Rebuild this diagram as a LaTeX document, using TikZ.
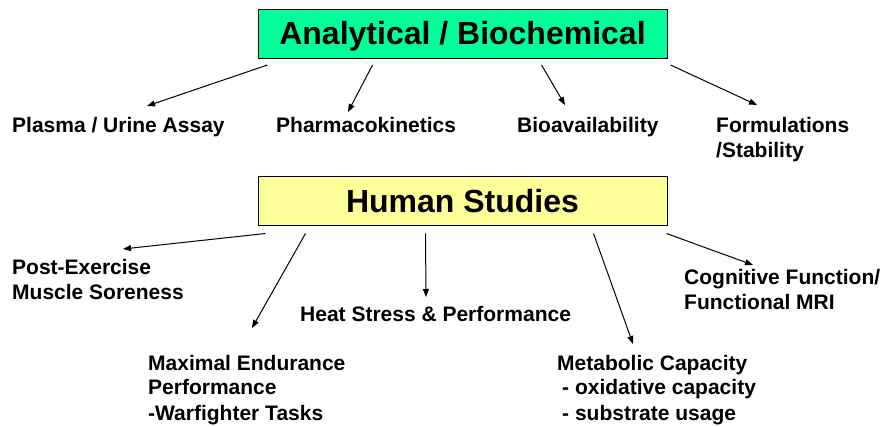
\documentclass[tikz,border=0pt]{standalone}
\usepackage{fontspec}
\setmainfont{Liberation Sans}
\usetikzlibrary{arrows.meta,calc,positioning}
\definecolor{boxgreen}{HTML}{00FF99}
\definecolor{boxyellow}{HTML}{FFFF99}
\tikzset{
    topic/.style={draw=black, line width=1pt, minimum width=409pt, minimum height=49pt, inner sep=0pt,
        text height=23pt, text depth=1pt, font=\fontsize{32}{38}\selectfont\bfseries},
    lbl/.style={font=\fontsize{21}{25}\selectfont\bfseries, align=left, inner sep=0pt, anchor=base west},
    arr/.style={line width=1pt, -{Triangle[length=8pt,width=6pt]}}
}

\begin{document}
\begin{tikzpicture}[x=1pt,y=-1pt]
    \useasboundingbox (0,0) rectangle (886,427);

    % draw the two boxes
    \node[topic, fill=boxgreen] (ana) at (462.5,34) {Analytical / Biochemical};
    \node[topic, fill=boxyellow] (human) at (462.5,201.5) {Human Studies};

    % label the analytical topics (base = last line)
    \node[lbl] (plasma) at (12,133) {Plasma / Urine Assay};
    \node[lbl] (pharma) at (276,133) {Pharmacokinetics};
    \node[lbl] (bioav) at (517,133) {Bioavailability};
    \node[lbl] (formul) at (716,158) {Formulations\\/Stability};

    % label the human studies
    \node[lbl] (sore) at (12,300) {Post-Exercise\\Muscle Soreness};
    \node[lbl] (heat) at (300,322) {Heat Stress \& Performance};
    \node[lbl] (cogn) at (684,310) {Cognitive Function/\\Functional MRI};
    \node[lbl] (endur) at (148,420) {Maximal Endurance\\Performance\\-Warfighter Tasks};
    \node[lbl] (metab) at (557,420) {Metabolic Capacity\\\hspace*{5pt}- oxidative capacity\\\hspace*{5pt}- substrate usage};

    % arrow ends under the boxes
    \coordinate (a1) at ($(ana.south west)+(10,6)$);
    \coordinate (a2) at ($(ana.south west)+(115,6)$);
    \coordinate (a3) at ($(ana.south west)+(284,6)$);
    \coordinate (a4) at ($(ana.south east)+(3,6)$);
    \coordinate (h1) at ($(human.south west)+(8,7)$);
    \coordinate (h2) at ($(human.south west)+(48,7)$);
    \coordinate (h3) at ($(human.south west)+(168,7)$);
    \coordinate (h4) at ($(human.south west)+(336,7)$);
    \coordinate (h5) at ($(human.south east)+(-1,7)$);

    % arrow tips above the labels
    \coordinate (p1) at (147,106);
    \coordinate (p2) at (348,112);
    \coordinate (p3) at (565,105);
    \coordinate (p4) at (757,105);
    \coordinate (q1) at (123,249);
    \coordinate (q2) at (252,328);
    \coordinate (q3) at (426,297);
    \coordinate (q4) at (633,344);
    \coordinate (q5) at (753,265);

    % draw the arrows
    \draw[arr] (a1) -- (p1);
    \draw[arr] (a2) -- (p2);
    \draw[arr] (a3) -- (p3);
    \draw[arr] (a4) -- (p4);
    \draw[arr] (h1) -- (q1);
    \draw[arr] (h2) -- (q2);
    \draw[arr] (h3) -- (q3);
    \draw[arr] (h4) -- (q4);
    \draw[arr] (h5) -- (q5);
\end{tikzpicture}
\end{document}
